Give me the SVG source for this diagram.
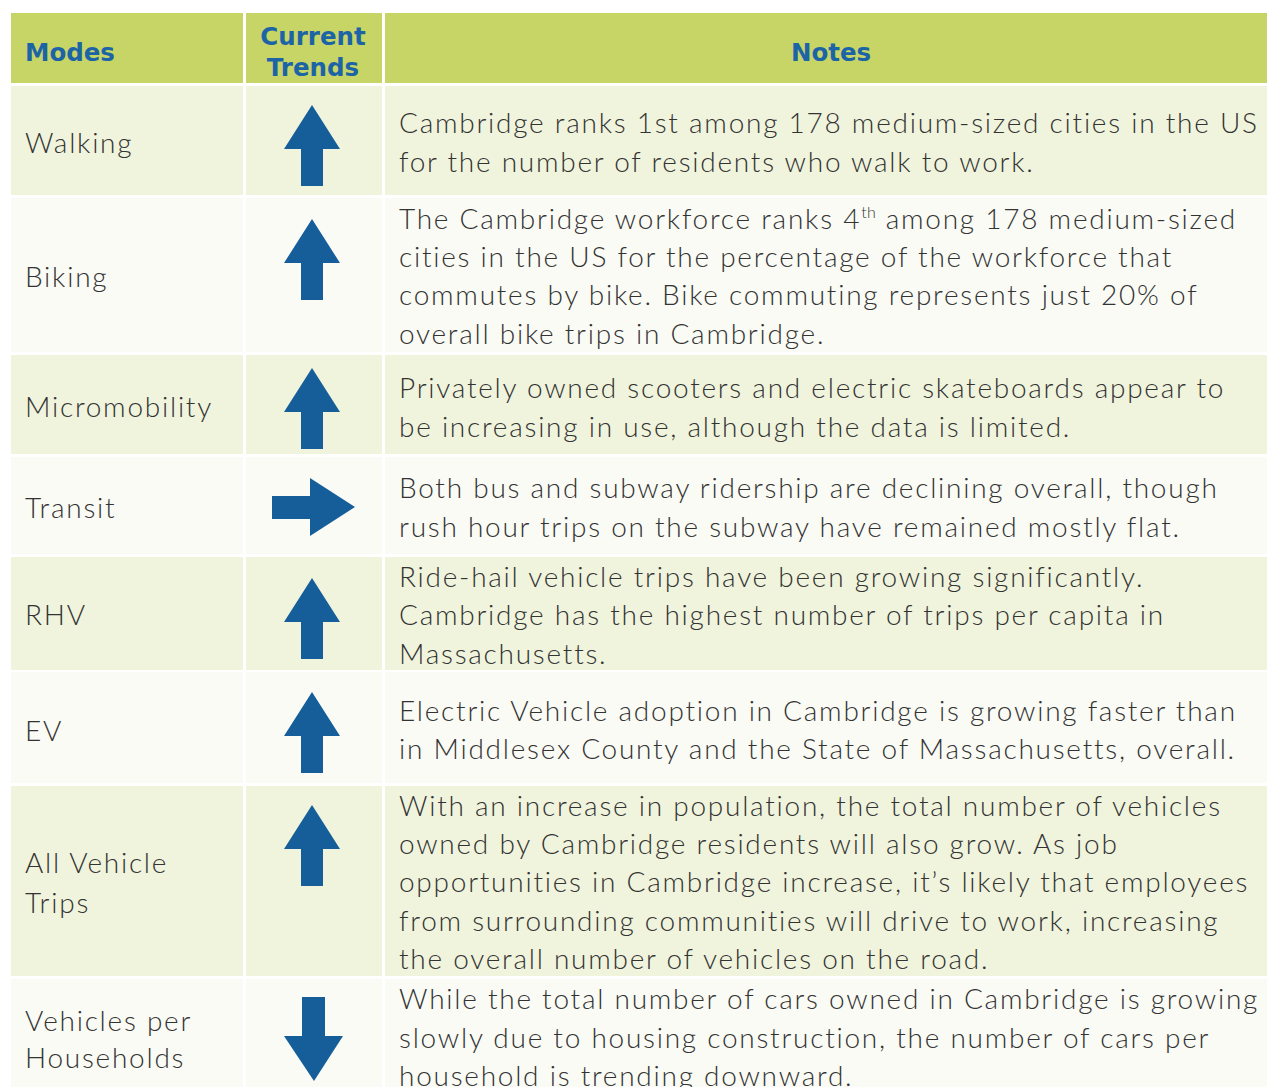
<svg xmlns="http://www.w3.org/2000/svg" width="1267" height="1087" viewBox="0 0 1267 1087">
<style>
.hd{fill:#C7D567}
.g{fill:#F0F4DD}
.l{fill:#FAFBF5}
.ht{font-family:"DejaVu Sans","Liberation Sans",sans-serif;font-weight:bold;font-size:24.5px;fill:#1C64A6}
.t{font-family:Lato,"Liberation Sans",sans-serif;font-weight:300;font-size:28px;letter-spacing:1.75px;fill:#333333}
.ar{fill:#155E9A}
</style>
<defs>
<path id="up" d="M0,0 L28,44 L11,44 L11,81 L-11,81 L-11,44 L-28,44 Z"/>
</defs>
<rect width="1267" height="1087" fill="#ffffff"/>
<g id="header">
<rect class="hd" x="11" y="13" width="232" height="70"/>
<rect class="hd" x="246" y="13" width="136" height="70"/>
<rect class="hd" x="385" y="13" width="882" height="70"/>
<text class="ht" x="25" y="61">Modes</text>
<text class="ht" x="313" y="45" text-anchor="middle">Current</text>
<text class="ht" x="313" y="76" text-anchor="middle">Trends</text>
<text class="ht" x="831" y="61" text-anchor="middle">Notes</text>
</g>
<g id="row-walking">
<rect class="g" x="11" y="86" width="232" height="109"/>
<rect class="g" x="246" y="86" width="136" height="109"/>
<rect class="g" x="385" y="86" width="882" height="109"/>
<text class="t" x="25" y="153">Walking</text>
<use href="#up" class="ar" x="312" y="105"/>
<text class="t" x="399" y="133">Cambridge ranks 1st among 178 medium-sized cities in the US</text>
<text class="t" x="399" y="172">for the number of residents who walk to work.</text>
</g>
<g id="row-biking">
<rect class="l" x="11" y="198" width="232" height="154"/>
<rect class="l" x="246" y="198" width="136" height="154"/>
<rect class="l" x="385" y="198" width="882" height="154"/>
<text class="t" x="25" y="287">Biking</text>
<use href="#up" class="ar" x="312" y="219"/>
<text class="t" x="399" y="229">The Cambridge workforce ranks 4<tspan dy="-11" font-size="16" letter-spacing="0.5">th</tspan><tspan dy="11"> among 178 medium-sized</tspan></text>
<text class="t" x="399" y="267">cities in the US for the percentage of the workforce that</text>
<text class="t" x="399" y="305">commutes by bike. Bike commuting represents just 20% of</text>
<text class="t" x="399" y="344">overall bike trips in Cambridge.</text>
</g>
<g id="row-micromobility">
<rect class="g" x="11" y="355" width="232" height="99"/>
<rect class="g" x="246" y="355" width="136" height="99"/>
<rect class="g" x="385" y="355" width="882" height="99"/>
<text class="t" x="25" y="417">Micromobility</text>
<use href="#up" class="ar" x="312" y="368"/>
<text class="t" x="399" y="398">Privately owned scooters and electric skateboards appear to</text>
<text class="t" x="399" y="437">be increasing in use, although the data is limited.</text>
</g>
<g id="row-transit">
<rect class="l" x="11" y="457" width="232" height="97"/>
<rect class="l" x="246" y="457" width="136" height="97"/>
<rect class="l" x="385" y="457" width="882" height="97"/>
<text class="t" x="25" y="518">Transit</text>
<path class="ar" d="M272,496 L310,496 L310,478 L355,507 L310,536 L310,519 L272,519 Z"/>
<text class="t" x="399" y="498">Both bus and subway ridership are declining overall, though</text>
<text class="t" x="399" y="537">rush hour trips on the subway have remained mostly flat.</text>
</g>
<g id="row-rhv">
<rect class="g" x="11" y="557" width="232" height="113"/>
<rect class="g" x="246" y="557" width="136" height="113"/>
<rect class="g" x="385" y="557" width="882" height="113"/>
<text class="t" x="25" y="625">RHV</text>
<use href="#up" class="ar" x="312" y="578"/>
<text class="t" x="399" y="587">Ride-hail vehicle trips have been growing significantly.</text>
<text class="t" x="399" y="625">Cambridge has the highest number of trips per capita in</text>
<text class="t" x="399" y="664">Massachusetts.</text>
</g>
<g id="row-ev">
<rect class="l" x="11" y="672" width="232" height="111"/>
<rect class="l" x="246" y="672" width="136" height="111"/>
<rect class="l" x="385" y="672" width="882" height="111"/>
<text class="t" x="25" y="741">EV</text>
<use href="#up" class="ar" x="312" y="692"/>
<text class="t" x="399" y="721">Electric Vehicle adoption in Cambridge is growing faster than</text>
<text class="t" x="399" y="759">in Middlesex County and the State of Massachusetts, overall.</text>
</g>
<g id="row-all-vehicle-trips">
<rect class="g" x="11" y="786" width="232" height="190"/>
<rect class="g" x="246" y="786" width="136" height="190"/>
<rect class="g" x="385" y="786" width="882" height="190"/>
<text class="t" x="25" y="873">All Vehicle</text>
<text class="t" x="25" y="913">Trips</text>
<use href="#up" class="ar" x="312" y="805"/>
<text class="t" x="399" y="816">With an increase in population, the total number of vehicles</text>
<text class="t" x="399" y="854">owned by Cambridge residents will also grow. As job</text>
<text class="t" x="399" y="892">opportunities in Cambridge increase, it’s likely that employees</text>
<text class="t" x="399" y="931">from surrounding communities will drive to work, increasing</text>
<text class="t" x="399" y="969">the overall number of vehicles on the road.</text>
</g>
<g id="row-vehicles-per-households">
<rect class="l" x="11" y="979" width="232" height="108"/>
<rect class="l" x="246" y="979" width="136" height="108"/>
<rect class="l" x="385" y="979" width="882" height="108"/>
<text class="t" x="25" y="1031">Vehicles per</text>
<text class="t" x="25" y="1068">Households</text>
<path class="ar" d="M302,997 L325,997 L325,1036 L343,1036 L314,1081 L284,1036 L302,1036 Z"/>
<text class="t" x="399" y="1009">While the total number of cars owned in Cambridge is growing</text>
<text class="t" x="399" y="1048">slowly due to housing construction, the number of cars per</text>
<text class="t" x="399" y="1086">household is trending downward.</text>
</g>
<g id="connectors"></g>
</svg>
